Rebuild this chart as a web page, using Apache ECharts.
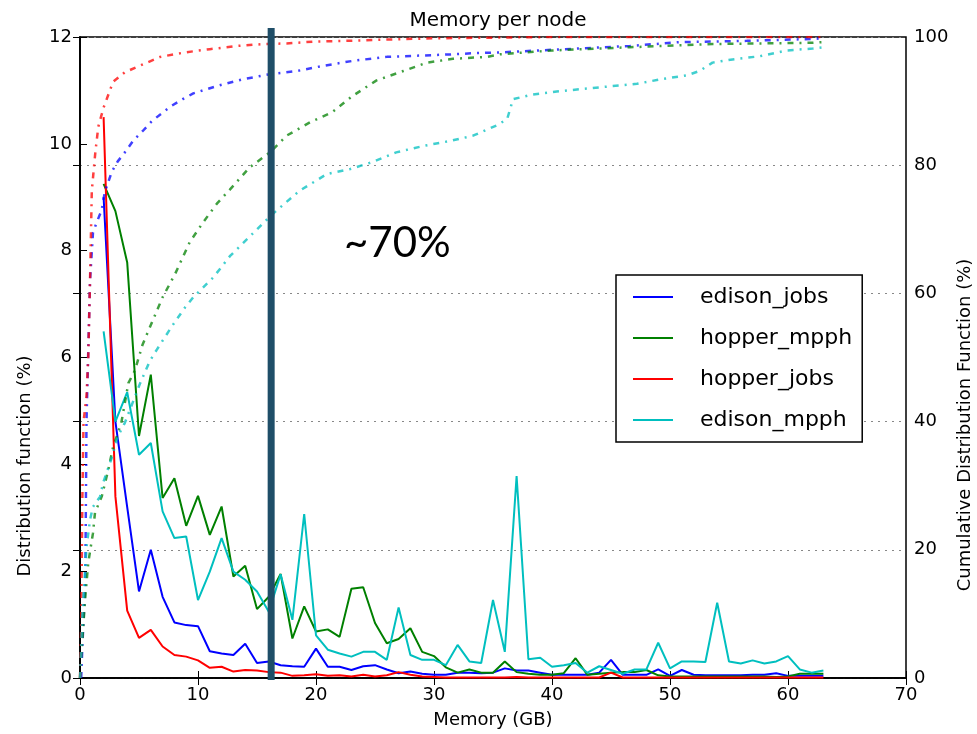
<!DOCTYPE html>
<html>
<head>
<meta charset="utf-8">
<script src="https://cdn.jsdelivr.net/npm/echarts@6/dist/echarts.min.js"></script>
<style>
  html, body { margin: 0; padding: 0; background: #fff; }
  #chart { width: 977px; height: 734px; }
</style>
</head>
<body>
<div id="chart"></div>
<script>
// Memory per node (GB) for each bin of the distribution function
const memGB = [2,3,4,5,6,7,8,9,10,11,12,13,14,15,16,17,18,19,20,21,22,23,24,25,26,27,28,29,30,31,32,33,34,35,36,37,38,39,40,41,42,43,44,45,46,47,48,49,50,51,52,53,54,55,56,57,58,59,60,61,62,63];

// Distribution function (%)
const edisonJobs = [9.0,4.8,3.2,1.62,2.4,1.52,1.04,0.99,0.97,0.5,0.46,0.43,0.64,0.28,0.31,0.24,0.22,0.21,0.55,0.21,0.21,0.15,0.22,0.24,0.16,0.09,0.12,0.08,0.06,0.06,0.1,0.1,0.09,0.1,0.18,0.14,0.14,0.1,0.06,0.06,0.06,0.06,0.1,0.34,0.06,0.06,0.06,0.16,0.04,0.15,0.06,0.05,0.05,0.05,0.05,0.06,0.06,0.09,0.04,0.04,0.04,0.04];
const hopperMpph = [9.25,8.74,7.78,4.53,5.68,3.37,3.74,2.85,3.41,2.68,3.21,1.9,2.1,1.29,1.52,1.95,0.74,1.34,0.87,0.91,0.77,1.67,1.7,1.03,0.65,0.73,0.93,0.49,0.41,0.2,0.1,0.16,0.1,0.1,0.31,0.11,0.08,0.06,0.06,0.09,0.37,0.06,0.08,0.1,0.11,0.11,0.15,0.05,0.03,0.03,0.03,0.03,0.03,0.03,0.03,0.03,0.03,0.02,0.03,0.08,0.08,0.08];
const hopperJobs = [10.5,3.4,1.26,0.75,0.9,0.59,0.43,0.4,0.33,0.19,0.21,0.12,0.15,0.14,0.11,0.1,0.04,0.05,0.07,0.04,0.05,0.03,0.06,0.03,0.05,0.11,0.06,0.03,0.02,0.01,0.01,0.01,0.01,0.01,0.01,0.02,0.01,0.01,0.01,0.01,0.01,0.01,0.01,0.1,0.01,0.01,0.01,0.01,0.01,0.01,0.01,0.01,0.01,0.01,0.01,0.01,0.01,0.01,0.01,0.01,0.01,0.01];
const edisonMpph = [6.49,4.8,5.35,4.18,4.4,3.12,2.62,2.65,1.46,1.99,2.62,1.99,1.84,1.62,1.24,1.94,1.09,3.07,0.8,0.53,0.46,0.4,0.49,0.49,0.34,1.32,0.43,0.34,0.34,0.24,0.62,0.31,0.28,1.46,0.49,3.78,0.35,0.38,0.21,0.24,0.28,0.1,0.22,0.15,0.08,0.16,0.16,0.66,0.18,0.31,0.31,0.3,1.41,0.31,0.27,0.33,0.27,0.31,0.41,0.16,0.1,0.14];

// Cumulative distribution function (%), each with its own memory grid
const edisonJobsCdfX = [0.1,0.2,0.45,0.55,0.85,1.1,1.4,1.84,2.1,2.7,3.2,3.8,4.5,5.3,6.1,7.7,8.7,9.6,11.7,13.8,16.1,18.4,20.6,23.2,26,28.8,31.6,33.6,35.6,40,46.6,50.8,56.5,62.1,63];
const edisonJobsCdf  = [0,5,15,40,62,69.5,71,73,75.8,79,80.6,82,83.8,85.3,86.9,89.2,90.3,91.2,92.4,93.4,94.2,94.7,95.5,96.3,96.9,97.1,97.3,97.5,97.6,98,98.6,99.2,99.4,99.7,99.8];
const hopperMpphCdfX = [0,0.14,0.42,0.7,1.1,1.27,1.84,2.4,2.8,3.5,4.1,4.66,5.3,6.1,7.0,8.05,9.3,10.4,11.6,12.7,14.4,16.1,17.5,19.5,21.4,23.1,25.1,27.4,29.4,31.6,34.5,35.6,40,46.6,53.6,62.1,63];
const hopperMpphCdf  = [0,4.4,12,18,22.6,25.8,28.3,32.5,36,39.8,46,48,52,55.5,59.4,63,68,71,74,76.2,79.7,82,84.6,86.7,88.3,90.8,93.2,94.7,96,96.6,96.9,97.3,97.9,98.4,98.9,99.1,99.2];
const hopperJobsCdfX = [0,0.1,0.2,0.3,0.55,0.7,0.85,1.0,1.3,1.55,2,2.8,3.8,4.8,6.8,8.9,11,13.3,15.5,17.5,20,22.6,26,30,35,40,50,63];
const hopperJobsCdf  = [0,8,28,40,44,50,62,76,82,86,89,93,94.5,95.3,96.9,97.6,98.1,98.6,98.9,99.0,99.3,99.4,99.6,99.8,99.9,100,100,100];
const edisonMpphCdfX = [0,0.2,0.56,0.85,1.1,1.7,1.95,2.7,3.2,3.8,5.1,5.9,6.5,7.8,8.9,9.6,11.3,12.7,14.4,16.1,16.7,18.6,20.9,22.9,24.8,26.8,29.1,31.4,33.3,35.3,36.2,36.7,38.3,40.4,42.6,44.9,47.2,49.2,51.4,52.5,53.6,55.3,57.6,59.9,62.1,63];
const edisonMpphCdf  = [0,10,20.5,24.7,26.7,28.3,30.4,34.4,37.7,39.8,46,49.4,51.2,54.9,57.8,59.4,62.5,65.8,68.9,72,73,76,78.6,79.4,80.5,82,83,83.8,84.6,86.2,87.2,90.3,91,91.5,91.9,92.3,92.7,93.4,94,94.7,96,96.5,97,97.9,98.2,98.4];

// Axis ticks
const xTicks = [0,10,20,30,40,50,60,70];
const pdfTicks = [0,2,4,6,8,10,12];
const cdfTicks = [0,20,40,60,80,100];

// Reference memory level marked by the vertical bar, and its annotation
const markerGB = 16.2;
const markerText = '~70%';

const FONT = 'DejaVu Sans';
const colors = { edison_jobs: '#0000ff', hopper_mpph: '#008000', hopper_jobs: '#ff0000', edison_mpph: '#00bfbf' };

const pairs = (xs, ys) => xs.map((x, i) => [x, ys[i]]);

function pdfSeries(name, values) {
  return {
    name, type: 'line', xAxisIndex: 0, yAxisIndex: 0,
    data: pairs(memGB, values), symbol: 'none', z: 2,
    lineStyle: { color: colors[name], width: 2 },
    itemStyle: { color: colors[name] }
  };
}
function cdfSeries(name, xs, ys) {
  return {
    name: name + ' CDF', type: 'line', xAxisIndex: 0, yAxisIndex: 1,
    data: pairs(xs, ys), symbol: 'none', z: 3,
    lineStyle: { color: colors[name], width: 2.5, type: [6, 6, 2, 6], opacity: 0.75 },
    itemStyle: { color: colors[name] }
  };
}

const chart = echarts.init(document.getElementById('chart'), null, { renderer: 'canvas' });

const tickLabel = { color: '#000', fontFamily: FONT, fontSize: 18 };

const option = {
  animation: false,
  backgroundColor: '#fff',
  title: {
    text: 'Memory per node', left: 493, top: 6, textAlign: 'center',
    textStyle: { fontFamily: FONT, fontSize: 20, fontWeight: 'normal', color: '#000' }
  },
  grid: { left: 80, right: 71, top: 37, bottom: 56, show: true, borderColor: '#000', borderWidth: 1.5 },
  legend: {
    data: ['edison_jobs', 'hopper_mpph', 'hopper_jobs', 'edison_mpph'],
    orient: 'vertical', left: 616, top: 275,
    icon: 'rect', itemWidth: 40, itemHeight: 2,
    padding: [9, 10, 9, 17], itemGap: 15,
    backgroundColor: '#fff', borderColor: '#000', borderWidth: 1.5, borderRadius: 0,
    textStyle: { fontFamily: FONT, fontSize: 22, color: '#000', lineHeight: 26, padding: [0, 0, 0, 22] }
  },
  xAxis: [{
    type: 'value', min: xTicks[0], max: xTicks[xTicks.length - 1], interval: 10, position: 'bottom',
    name: 'Memory (GB)', nameLocation: 'middle', nameGap: 33,
    nameTextStyle: { fontFamily: FONT, fontSize: 18, color: '#000' },
    axisLine: { lineStyle: { color: '#000', width: 1.5 } },
    axisTick: { inside: true, length: 7, lineStyle: { color: '#000' } },
    axisLabel: Object.assign({ margin: 8 }, tickLabel),
    splitLine: { show: false }
  }, {
    type: 'value', min: xTicks[0], max: xTicks[xTicks.length - 1], interval: 10, position: 'top',
    axisLine: { lineStyle: { color: '#000', width: 1.5 } },
    axisTick: { inside: true, length: 7, lineStyle: { color: '#000' } },
    axisLabel: { show: false }, splitLine: { show: false }
  }],
  yAxis: [{
    type: 'value', min: pdfTicks[0], max: pdfTicks[pdfTicks.length - 1], interval: 2, position: 'left',
    axisLine: { show: true, lineStyle: { color: '#000', width: 1.5 } },
    axisTick: { show: true, inside: true, length: 7, lineStyle: { color: '#000' } },
    axisLabel: Object.assign({ margin: 8 }, tickLabel),
    splitLine: { show: false }
  }, {
    type: 'value', min: cdfTicks[0], max: cdfTicks[cdfTicks.length - 1], interval: 20, position: 'right',
    axisLine: { show: true, lineStyle: { color: '#000', width: 1.5 } },
    axisTick: { show: true, inside: true, length: 7, lineStyle: { color: '#000' } },
    axisLabel: Object.assign({ margin: 8 }, tickLabel),
    splitLine: { show: true, lineStyle: { color: '#888', type: [2, 5], width: 1.2 } }
  }],
  graphic: [
    {
      type: 'text', id: 'ylabelLeft', x: 25, y: 466, rotation: Math.PI / 2,
      style: { text: 'Distribution function (%)', fontFamily: FONT, fontSize: 18, fill: '#000', textAlign: 'center', textVerticalAlign: 'middle' }
    },
    {
      type: 'text', id: 'ylabelRight', x: 965, y: 425, rotation: Math.PI / 2,
      style: { text: 'Cumulative Distribution Function (%)', fontFamily: FONT, fontSize: 18, fill: '#000', textAlign: 'center', textVerticalAlign: 'middle' }
    },
    {
      type: 'text', id: 'note', left: 344, top: 222, z: 20,
      style: { text: markerText, fontFamily: 'Lato', fontSize: 42, fill: '#000' }
    }
  ],
  series: [
    pdfSeries('edison_jobs', edisonJobs),
    pdfSeries('hopper_mpph', hopperMpph),
    pdfSeries('hopper_jobs', hopperJobs),
    pdfSeries('edison_mpph', edisonMpph),
    cdfSeries('edison_jobs', edisonJobsCdfX, edisonJobsCdf),
    cdfSeries('hopper_mpph', hopperMpphCdfX, hopperMpphCdf),
    cdfSeries('hopper_jobs', hopperJobsCdfX, hopperJobsCdf),
    cdfSeries('edison_mpph', edisonMpphCdfX, edisonMpphCdf)
  ]
};

chart.setOption(option);

// Vertical bar at the reference memory level, placed through the x scale
const barX = chart.convertToPixel({ xAxisIndex: 0 }, markerGB);
const plotTop = chart.convertToPixel({ yAxisIndex: 0 }, pdfTicks[pdfTicks.length - 1]);
const plotBottom = chart.convertToPixel({ yAxisIndex: 0 }, pdfTicks[0]);
chart.setOption({
  graphic: [{
    type: 'line', id: 'markerBar', z: 15,
    shape: { x1: barX, y1: plotTop - 9, x2: barX, y2: plotBottom + 2 },
    style: { stroke: '#1f4e68', lineWidth: 7 }
  }]
});
</script>
</body>
</html>
